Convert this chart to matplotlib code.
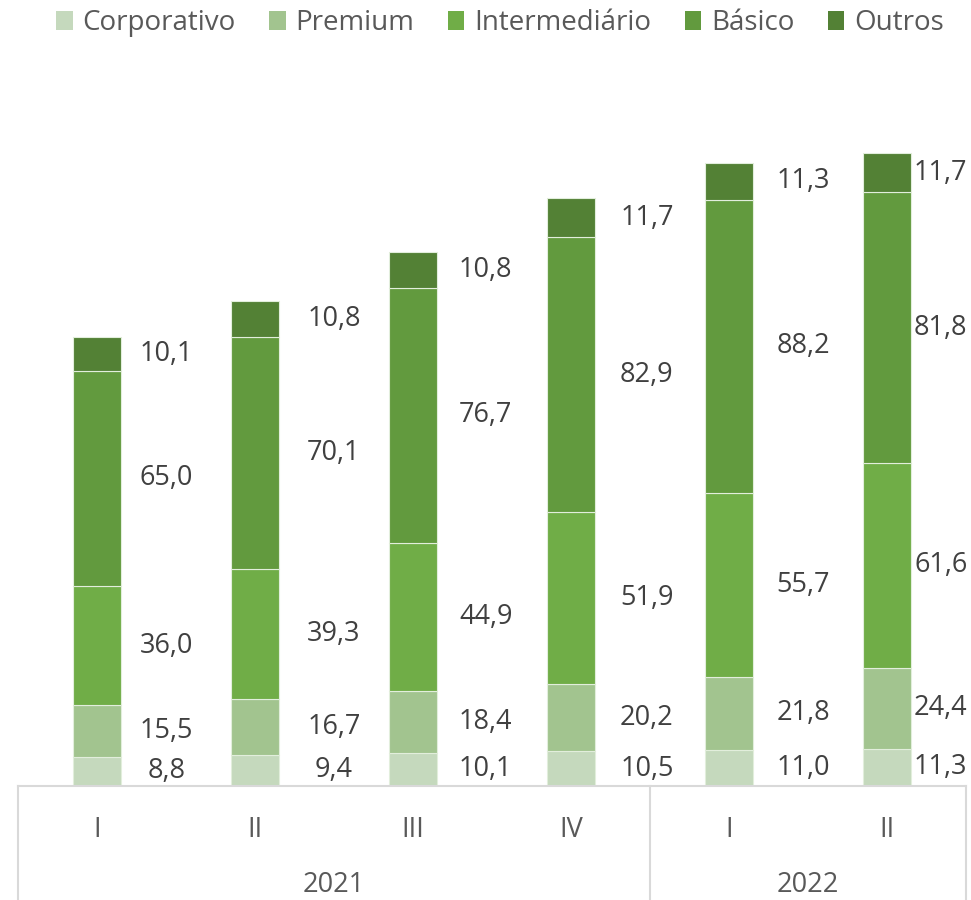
import matplotlib
matplotlib.use("Agg")
import matplotlib.pyplot as plt
from matplotlib.patches import Patch
import numpy as np

plt.rcParams['font.family'] = ['Open Sans', 'DejaVu Sans']

quarters = ['I', 'II', 'III', 'IV', 'I', 'II']
years = ['2021', '2022']
year_sizes = [4, 2]
series_names = ['Corporativo', 'Premium', 'Intermediário', 'Básico', 'Outros']
corporativo = [8.8, 9.4, 10.1, 10.5, 11.0, 11.3]
premium = [15.5, 16.7, 18.4, 20.2, 21.8, 24.4]
intermediario = [36.0, 39.3, 44.9, 51.9, 55.7, 61.6]
basico = [65.0, 70.1, 76.7, 82.9, 88.2, 81.8]
outros = [10.1, 10.8, 10.8, 11.7, 11.3, 11.7]

series = [corporativo, premium, intermediario, basico, outros]
colors = ['#C5D9BD', '#A2C48F', '#70AD47', '#629A3E', '#538135']
label_dx = [0.44, 0.50, 0.46, 0.48, 0.47, 0.34]

W, H = 971, 900
fig = plt.figure(figsize=(W / 100, H / 100), dpi=100)
ax_left, ax_right = 18 / W, 966 / W
ax_bottom = (H - 786) / H
ax_top = (H - 100) / H
ax = fig.add_axes([ax_left, ax_bottom, ax_right - ax_left, ax_top - ax_bottom])
px_per_unit = 3.316
ax.set_ylim(0, 686 / px_per_unit)
ax.set_xlim(-0.5, 5.5)

x = np.arange(len(quarters))
bottom = np.zeros(len(quarters))
bar_w = 0.31
for vals, col in zip(series, colors):
    vals = np.array(vals)
    ax.bar(x, vals, bar_w, bottom=bottom, color=col, edgecolor='#E2EEDC', linewidth=0.8)
    for i, v in enumerate(vals):
        ax.text(x[i] + label_dx[i], bottom[i] + v / 2, f"{v:.1f}".replace('.', ','),
                ha='center', va='center', fontsize=19.5, color='#404040', clip_on=False)
    bottom += vals

for s in ax.spines.values():
    s.set_visible(False)
ax.set_xticks([])
ax.set_yticks([])

# category axis box
tr = ax.get_xaxis_transform()
line_col = '#D9D9D9'
ybot = -120 / 686
ax.plot([-0.5, 5.5], [0, 0], color=line_col, lw=1.5, transform=tr, clip_on=False)
edges = [-0.5]
for n in year_sizes:
    edges.append(edges[-1] + n)
for e in edges:
    ax.plot([e, e], [0, ybot], color=line_col, lw=1.5, transform=tr, clip_on=False)

for i, q in enumerate(quarters):
    ax.annotate(q, xy=(x[i], 0), xycoords=tr, xytext=(0, -44 * 0.72),
                textcoords='offset points', ha='center', va='center',
                fontsize=19.5, color='#595959', annotation_clip=False)
for j, yr in enumerate(years):
    cx = (edges[j] + edges[j + 1]) / 2
    ax.annotate(yr, xy=(cx, 0), xycoords=tr, xytext=(0, -99 * 0.72),
                textcoords='offset points', ha='center', va='center',
                fontsize=19.5, color='#595959', annotation_clip=False)

handles = [Patch(facecolor=c, edgecolor='none') for c in colors]
fig.legend(handles, series_names, loc='center', bbox_to_anchor=(500 / W, 1 - 23 / H),
           ncol=5, frameon=False, fontsize=20, labelcolor='#595959',
           handlelength=0.6, handleheight=0.7, handletextpad=0.35, columnspacing=1.2,
           borderpad=0, borderaxespad=0)

fig.savefig('out.png', dpi=100)
